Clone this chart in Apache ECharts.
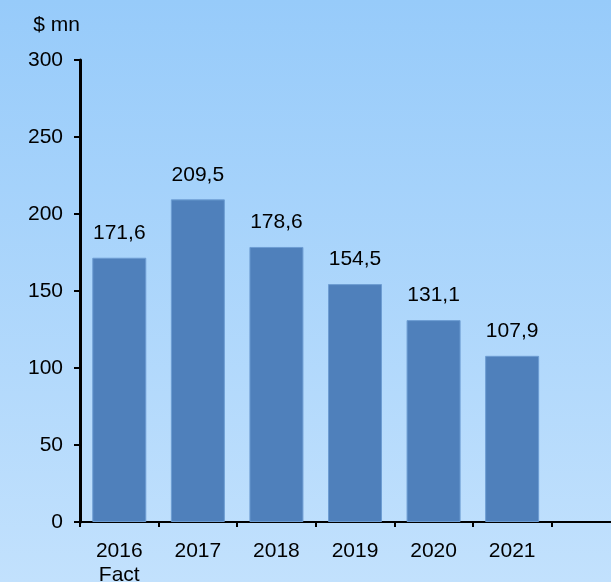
<!DOCTYPE html>
<html><head><meta charset="utf-8">
<script src="https://cdn.jsdelivr.net/npm/echarts@6/dist/echarts.min.js"></script>
<style>html,body{margin:0;padding:0;}#c{width:611px;height:582px;}</style>
</head><body><div id="c"></div>
<script>
var categories = ['2016\nFact', '2017', '2018', '2019', '2020', '2021', ''];
var values = [171.6, 209.5, 178.6, 154.5, 131.1, 107.9, null];
var yTicks = [0, 50, 100, 150, 200, 250, 300];
var axisName = '$ mn';

var chart = echarts.init(document.getElementById('c'));
var font = 'Liberation Sans, Arial, sans-serif';
chart.setOption({
  animation: false,
  backgroundColor: new echarts.graphic.LinearGradient(0, 0, 0, 1, [
    {offset: 0, color: '#97cbfa'},
    {offset: 1, color: '#c2e1fd'}
  ]),
  grid: {left: 80, top: 60, width: 550, height: 462, containLabel: false, outerBoundsMode: 'none'},
  xAxis: {
    type: 'category',
    data: categories,
    axisLine: {lineStyle: {color: '#000', width: 2}},
    axisTick: {show: true, alignWithLabel: false, length: 5, lineStyle: {color: '#000', width: 2}},
    axisLabel: {color: '#000', fontSize: 21, fontFamily: font, margin: 17, lineHeight: 24, interval: 0}
  },
  yAxis: {
    type: 'value',
    min: yTicks[0], max: yTicks[yTicks.length - 1], interval: 50,
    name: axisName,
    nameLocation: 'end',
    nameGap: 35,
    nameTextStyle: {color: '#000', fontSize: 21, fontFamily: font, align: 'right', verticalAlign: 'middle'},
    splitLine: {show: false},
    axisLine: {show: true, lineStyle: {color: '#000', width: 3}},
    axisTick: {show: true, length: 6, lineStyle: {color: '#000', width: 2}},
    axisLabel: {color: '#000', fontSize: 21, fontFamily: font, margin: 17}
  },
  series: [{
    type: 'bar',
    data: values,
    barWidth: 54,
    itemStyle: {color: '#4f80bb', borderColor: '#6d9dd3', borderWidth: 1},
    label: {
      show: true, position: 'top', distance: 14,
      color: '#000', fontSize: 21, fontFamily: font,
      formatter: function (p) { return p.value == null ? '' : String(p.value).replace('.', ','); }
    }
  }]
});
</script></body></html>
